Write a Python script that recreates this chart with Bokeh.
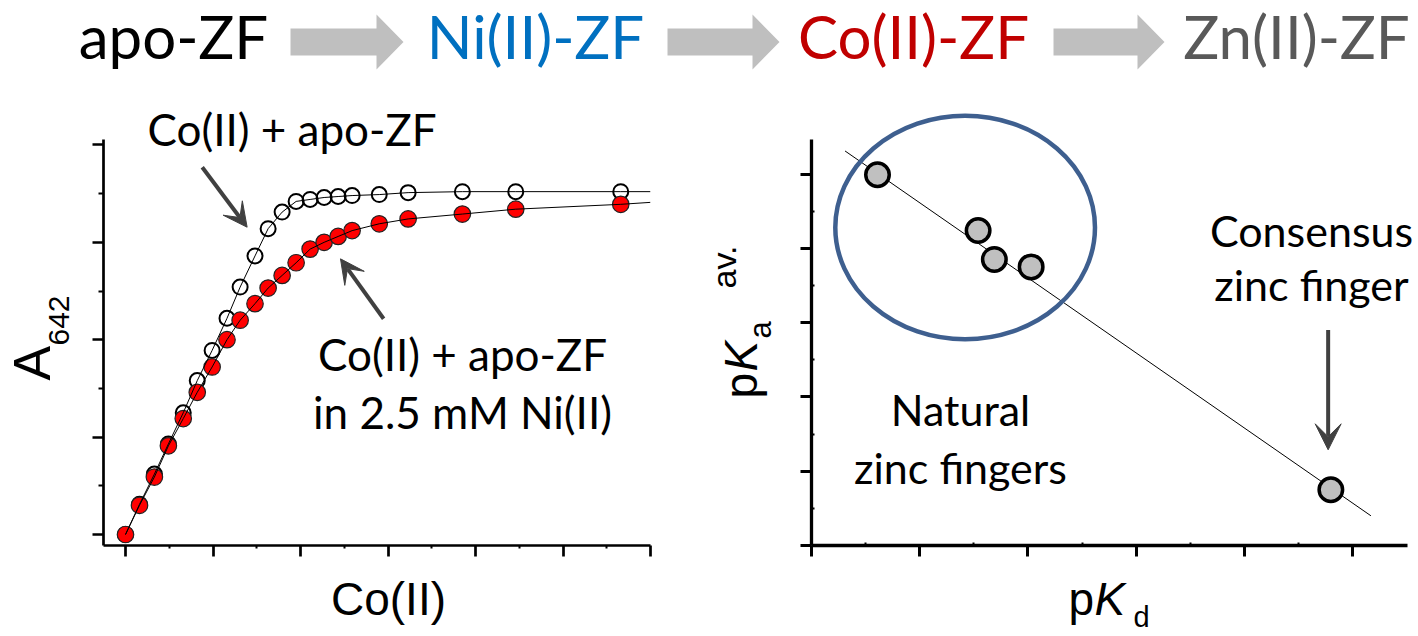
import numpy as np
from bokeh.plotting import figure
from bokeh.models import Range1d, Arrow, VeeHead, FixedTicker, CustomJSTickFormatter
from bokeh.layouts import column, row
from bokeh.embed import file_html
from bokeh.resources import INLINE
from bokeh.core.properties import value

# ---------------- data ----------------
# banner
stages = ["apo-ZF", "Ni(II)-ZF", "Co(II)-ZF", "Zn(II)-ZF"]
stage_colors = ["#000000", "#0070C0", "#C00000", "#595959"]

# left panel: Co(II) titration, A642
co_added = [0, 0.16, 0.33, 0.49, 0.66, 0.82, 0.99, 1.16, 1.31, 1.48, 1.63, 1.79,
            1.95, 2.11, 2.27, 2.43, 2.59, 2.90, 3.23, 3.85, 4.46, 5.66]
a642_apo = [0, 0.31, 0.62, 0.93, 1.25, 1.58, 1.89, 2.22, 2.54, 2.86, 3.14, 3.31,
            3.42, 3.44, 3.46, 3.47, 3.48, 3.49, 3.51, 3.52, 3.52, 3.52]
a642_ni = [0, 0.30, 0.59, 0.91, 1.19, 1.46, 1.72, 2.00, 2.20, 2.37, 2.53, 2.66,
           2.79, 2.93, 3.00, 3.06, 3.12, 3.19, 3.24, 3.29, 3.34, 3.39]
fit_end_x = 6.0
fit_end_apo = 3.52
fit_end_ni = 3.41

# right panel: pKa(av.) vs pKd
pkd = [0.61, 1.54, 1.69, 2.03, 4.80]
pka = [4.99, 4.24, 3.85, 3.75, 0.75]
fit_pkd = [0.31, 5.17]
fit_pka = [5.31, 0.40]
natural_cx, natural_cy, natural_w, natural_h = 1.42, 4.28, 2.40, 3.01

CAL = "Lato"
ARI = "Liberation Sans"
ARROW_COL = "#404040"
BASE_SHIFT = 0.42   # svg text baseline correction (fraction of font size)

# pixel -> data helpers for label placement (page pixels)
def lx(px): return (px - 125) / 87.5
def ly(py): return (534 - py) / 97.4
def rx(px): return (px - 811) / 108.2
def ry(py): return (545 - py) / 74.3

# ---------------- banner ----------------
W, H_TOP = 1418, 100
top = figure(width=W, height=H_TOP, x_range=Range1d(0, W), y_range=Range1d(H_TOP, 0),
             output_backend="svg", toolbar_location=None, min_border=0)
top.axis.visible = False
top.grid.visible = False
top.outline_line_color = None

text_cx = [173, 535, 913, 1296]
top.text(x=text_cx, y=[61 - BASE_SHIFT * 60] * 4, text=stages, text_color=stage_colors,
         text_font=value(CAL), text_font_size="60px",
         text_align="center", text_baseline="alphabetic")

def block_arrow(x0, x1, yc=41.5, body_h=27, head_h=55, head_len=27):
    xb = x1 - head_len
    xs = [x0, xb, xb, x1, xb, xb, x0]
    ys = [yc - body_h / 2, yc - body_h / 2, yc - head_h / 2, yc,
          yc + head_h / 2, yc + body_h / 2, yc + body_h / 2]
    return xs, ys

arrows = [block_arrow(290, 403), block_arrow(667, 779), block_arrow(1053, 1164)]
top.patches(xs=[a[0] for a in arrows], ys=[a[1] for a in arrows],
            fill_color="#BFBFBF", line_color=None)

# ---------------- shared helpers ----------------
blank = CustomJSTickFormatter(code="return ''")

def style_axis(ax, ticks, minor_in, minor_out, lw, tick_lw):
    ax.ticker = FixedTicker(ticks=ticks, num_minor_ticks=2,
                            minor_ticks=[t + 0.5 for t in ticks[:-1]])
    ax.formatter = blank
    ax.axis_line_width = lw
    ax.major_tick_line_width = tick_lw
    ax.minor_tick_line_width = 2
    ax.major_tick_in = 0
    ax.major_tick_out = 11
    ax.minor_tick_in = minor_in
    ax.minor_tick_out = minor_out
    ax.major_label_text_font_size = "0px"
    ax.major_label_standoff = 0

def txt(p, fx, fy, px, py, text, size, font=CAL, align="left", style="normal",
        rotated=False, color="black"):
    # (px, py): reference baseline anchor in page pixels
    if rotated:
        x, y, ang = fx(px - BASE_SHIFT * size), fy(py), np.pi / 2
    else:
        x, y, ang = fx(px), fy(py - BASE_SHIFT * size), 0
    p.text(x=[x], y=[y], text=[text], angle=ang, text_font=value(font),
           text_font_size=f"{size}px", text_font_style=style, text_align=align,
           text_baseline="alphabetic", text_color=color, level="overlay")

# ---------------- left panel ----------------
TOP_B, BOT_B = 39, 91   # borders inside the 536 px lower row (frame 139..545)
left = figure(width=700, height=536, x_range=Range1d(lx(103), lx(650)),
              y_range=Range1d(ly(545), ly(139)),
              output_backend="svg", toolbar_location=None,
              min_border_left=103, min_border_right=50, min_border_top=TOP_B, min_border_bottom=BOT_B)
left.grid.visible = False
left.outline_line_color = None
style_axis(left.xaxis[0], [0, 1, 2, 3, 4, 5, 6], 0, 3, 2.7, 2.7)
style_axis(left.yaxis[0], [0, 1, 2, 3, 4], 0, 5, 2.7, 2.7)

left.scatter(co_added, a642_apo, size=15, fill_color=None, line_color="black", line_width=2)
left.scatter(co_added, a642_ni, size=16.5, fill_color="#FF0000", line_color="#222222", line_width=1.2)
left.line(co_added + [fit_end_x], a642_apo + [fit_end_apo], line_color="black", line_width=1)
left.line(co_added + [fit_end_x], a642_ni + [fit_end_ni], line_color="black", line_width=1)

txt(left, lx, ly, 147, 147, "Co(II) + apo-ZF", 44)
txt(left, lx, ly, 462, 372, "Co(II) + apo-ZF", 44, align="center")
txt(left, lx, ly, 462, 430, "in 2.5 mM Ni(II)", 44, align="center")
txt(left, lx, ly, 388, 618, "Co(II)", 46, font=ARI, align="center")
txt(left, lx, ly, 53, 380, "A", 52, font=ARI, rotated=True)
txt(left, lx, ly, 71, 345, "642", 30, font=ARI, rotated=True)

for (xs, ys, xe, ye) in [(0.877, 3.77, 1.39, 3.155), (2.95, 2.215, 2.457, 2.83)]:
    left.add_layout(Arrow(end=VeeHead(size=24, fill_color=ARROW_COL, line_color=ARROW_COL),
                          x_start=xs, y_start=ys, x_end=xe, y_end=ye,
                          line_color=ARROW_COL, line_width=4))

# ---------------- right panel ----------------
right = figure(width=718, height=536, x_range=Range1d(rx(811), rx(1407)),
               y_range=Range1d(ry(545), ry(139)),
               output_backend="svg", toolbar_location=None,
               min_border_left=111, min_border_right=11, min_border_top=TOP_B, min_border_bottom=BOT_B)
right.grid.visible = False
right.outline_line_color = None
style_axis(right.xaxis[0], [0, 1, 2, 3, 4, 5], 3, 0, 3.3, 3)
style_axis(right.yaxis[0], [0, 1, 2, 3, 4, 5], 3, 0, 3.3, 3)

right.line(fit_pkd, fit_pka, line_color="black", line_width=1)
right.ellipse(x=[natural_cx], y=[natural_cy], width=[natural_w], height=[natural_h],
              fill_color=None, line_color="#3E5F8F", line_width=4.5, level="annotation")
right.scatter(pkd, pka, size=23.5, fill_color="#C0C0C0", line_color="black", line_width=3.5)

txt(right, rx, ry, 960, 427, "Natural", 43, align="center")
txt(right, rx, ry, 960, 485, "zinc fingers", 43, align="center")
txt(right, rx, ry, 1311, 248, "Consensus", 43, align="center")
txt(right, rx, ry, 1311, 302, "zinc finger", 43, align="center")
right.add_layout(Arrow(end=VeeHead(size=26, fill_color=ARROW_COL, line_color=ARROW_COL),
                       x_start=4.775, y_start=2.90, x_end=4.775, y_end=1.288,
                       line_color=ARROW_COL, line_width=4))

# axis titles
txt(right, rx, ry, 1068, 618, "p", 46, font=ARI)
txt(right, rx, ry, 1094, 618, "K", 46, font=ARI, style="italic")
txt(right, rx, ry, 1133, 629, "d", 29, font=ARI)
txt(right, rx, ry, 760, 398, "p", 46, font=ARI, rotated=True)
txt(right, rx, ry, 760, 371, "K", 46, font=ARI, style="italic", rotated=True)
txt(right, rx, ry, 773, 338, "a", 31, font=ARI, rotated=True)
txt(right, rx, ry, 738, 288, "av.", 34, font=ARI, rotated=True)

layout = column(top, row(left, right, spacing=0), spacing=0)
open("out.html", "w").write(file_html(layout, INLINE))
